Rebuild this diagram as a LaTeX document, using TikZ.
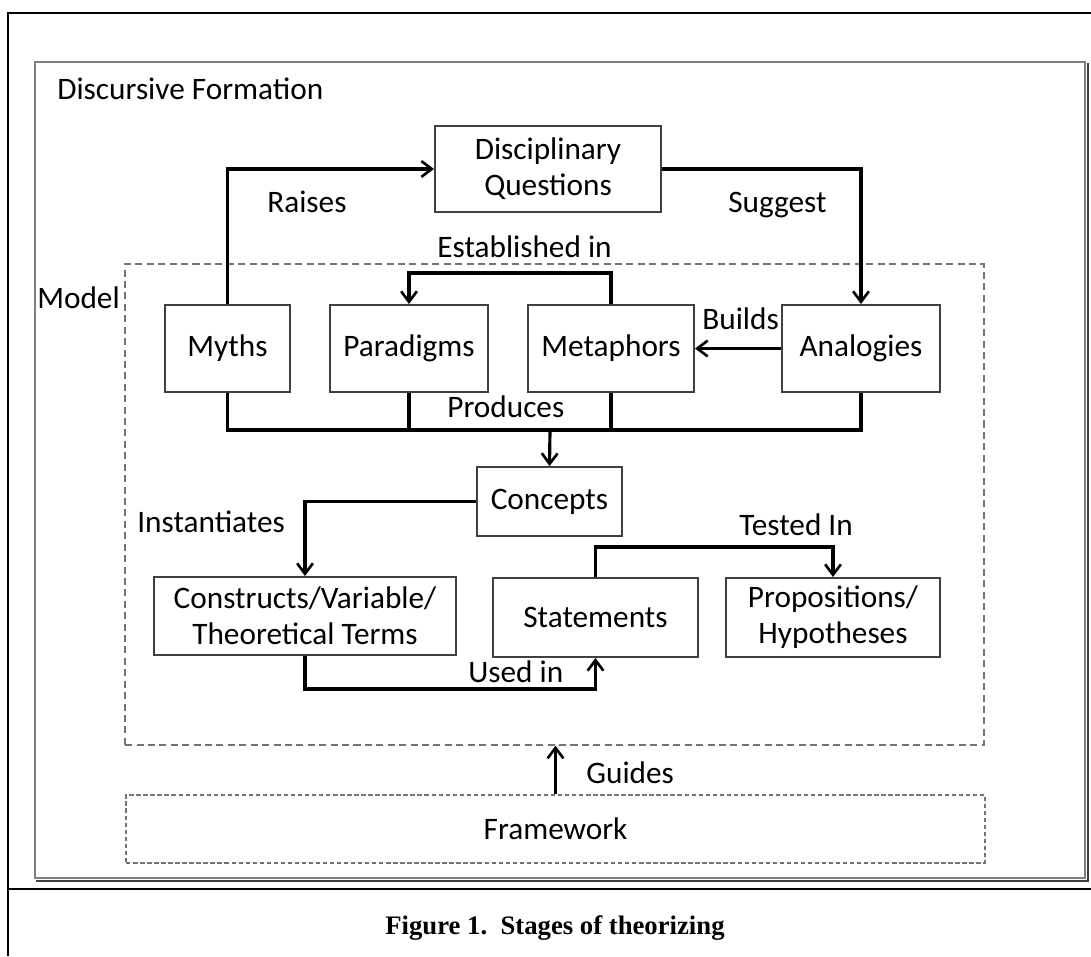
\documentclass[tikz,border=0pt]{standalone}
\usepackage{fontspec}
\setmainfont{Carlito}
\newfontfamily\captionfont{Liberation Serif}
\usetikzlibrary{arrows.meta}

\begin{document}
\begin{tikzpicture}[
		x=0.02cm, y=-0.02cm,
		every node/.style={
				font=\fontsize{17.8}{20.5}\selectfont,
				inner sep=0pt,
				align=center
			},
		stage/.style={draw=black!75, line width=1.1pt},
		region/.style={draw=black!55, line width=0.8pt, dash pattern=on 4pt off 2.5pt},
		link/.style={line width=1.8pt},
		linkto/.style={link, -{Straight Barb[length=6pt, width=9pt, line width=1.5pt]}}
	]
	\useasboundingbox (0,0) rectangle (1091,956);

	% page frame and caption row
	\draw[line width=1.6pt] (8,956) -- (8,13) -- (1091,13);
	\draw[line width=1.6pt] (8,889) -- (1091,889);
	\node[font=\captionfont\fontsize{15.2}{18}\selectfont\bfseries, anchor=base] (caption) at (555,934) {Figure 1.\ \ Stages of theorizing};

	% discursive formation (with shadow)
	\node[draw=black!50, line width=1.2pt, minimum width=21cm, minimum height=16.32cm] (formation) at (560,470) {};
	\draw[black!75, line width=1.2pt] ([shift={(2,2)}]formation.south west) -- ([shift={(2,2)}]formation.south east) -- ([shift={(2,2)}]formation.north east);
	\node[anchor=base west] (formationlabel) at (57,100) {Discursive Formation};

	% model and framework regions
	\node[region, minimum width=17.18cm, minimum height=9.62cm] (model) at (554.5,504.5) {};
	\node[anchor=base west] (modellabel) at (37,308) {Model};
	\node[region, dash pattern=on 2.5pt off 1.5pt, minimum width=17.18cm, minimum height=1.36cm] (framework) at (555.5,829) {Framework};

	% stages
	\node[stage, minimum width=4.52cm, minimum height=1.72cm] (questions) at (548,169) {Disciplinary\\Questions};
	\node[stage, minimum width=2.5cm, minimum height=1.74cm] (myths) at (227.5,348.5) {Myths};
	\node[stage, minimum width=3.16cm, minimum height=1.74cm] (paradigms) at (409,348.5) {Paradigms};
	\node[stage, minimum width=3.32cm, minimum height=1.74cm] (metaphors) at (611,348.5) {Metaphors};
	\node[stage, minimum width=3.16cm, minimum height=1.74cm] (analogies) at (861,348.5) {Analogies};
	\node[stage, minimum width=2.9cm, minimum height=1.38cm] (concepts) at (549.5,501.5) {Concepts};
	\node[stage, minimum width=6.04cm, minimum height=1.56cm] (constructs) at (305,616) {Constructs/Variable/\\Theoretical Terms};
	\node[stage, minimum width=4.1cm, minimum height=1.58cm] (statements) at (595.5,617.5) {Statements};
	\node[stage, minimum width=4.28cm, minimum height=1.58cm] (propositions) at (833,617.5) {Propositions/\\Hypotheses};

	% connector labels
	\node[anchor=base west] (raises) at (267,213) {Raises};
	\node[anchor=base west] (suggest) at (728,213) {Suggest};
	\node[anchor=base west] (established) at (437,257) {Established in};
	\node[anchor=base west] (builds) at (702,329) {Builds};
	\node[anchor=base west] (produces) at (447,417) {Produces};
	\node[anchor=base west] (instantiates) at (137,532) {Instantiates};
	\node[anchor=base west] (tested) at (739,535) {Tested In};
	\node[anchor=base west] (used) at (468,682) {Used in};
	\node[anchor=base west] (guides) at (586,783) {Guides};

	% connectors
	\draw[linkto] (myths.north) |- (questions.west);
	\draw[linkto] (questions.east) -| (analogies.north);
	\draw[linkto] (metaphors.north) -- ++(0,-31) -| (paradigms.north);
	\draw[linkto] (analogies.west) -- (metaphors.east);

	\coordinate (bus) at (550,430);
	\draw[link] (myths.south) |- (bus) -| (analogies.south);
	\draw[link] (paradigms.south) -- (paradigms.south |- bus);
	\draw[link] (metaphors.south) -- (metaphors.south |- bus);
	\draw[linkto] (bus) -- (concepts.north);

	\draw[linkto] (concepts.west) -| (constructs.north);
	\draw[linkto] (statements.north) -- ++(0,-30) -| (propositions.north);
	\draw[linkto] (constructs.south) -- ++(0,33) -| (statements.south);
	\draw[linkto] (framework.north) -- (framework.north |- model.south);
\end{tikzpicture}
\end{document}
